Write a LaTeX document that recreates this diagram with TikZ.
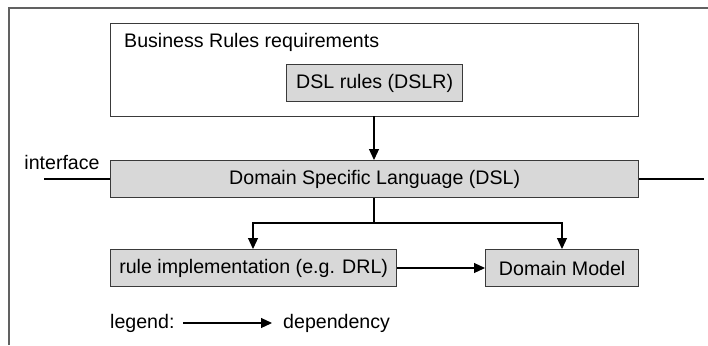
\documentclass[tikz,border=0pt]{standalone}
\usepackage{fontspec}
\setmainfont{Liberation Sans}
\usetikzlibrary{arrows.meta}
\definecolor{boxgray}{HTML}{D8D8D8}
\definecolor{linegray}{HTML}{3A3A3A}
\tikzset{
  every node/.style={font=\fontsize{19.6}{22}\selectfont, inner sep=0pt},
  graybox/.style={draw=linegray, line width=1.3pt, fill=boxgray, anchor=north west},
  dep/.style={line width=1.2pt, -{Triangle[length=11pt,width=10pt]}},
  ifline/.style={line width=2.6pt},
  lbl/.style={anchor=west, text=black}
}
\begin{document}
\begin{tikzpicture}[x=1pt,y=-1pt]
\useasboundingbox (0,0) rectangle (708,345);
% outer frame (partial)
\draw[draw=linegray!80, line width=1.2pt] (9,345) -- (9,8) -- (708,8);
% Business rules box
\node[draw=linegray, line width=1.3pt, anchor=north west, minimum width=528pt, minimum height=93pt] (br) at (110,23) {};
\node[lbl] (brt) at (124,42) {Business Rules requirements};
\node[graybox, minimum width=176pt, minimum height=37pt] (dslr) at (286,64) {};
\node (dslrt) at (dslr.center) {DSL rules (DSLR)};
% DSL box
\node[graybox, minimum width=528pt, minimum height=37pt] (dsl) at (110,160) {};
\node (dslt) at (dsl.center) {Domain Specific Language (DSL)};
% interface lines
\node (ift) at (62,162) {interface};
\coordinate (ifl) at (44,179);
\coordinate (ifr) at (704,179);
\draw[ifline] (ifl) -- (ifl -| dsl.west);
\draw[ifline] (dsl.east |- ifr) -- (ifr);
% lower boxes
\node[graybox, minimum width=286pt, minimum height=37pt] (ri) at (110,249) {};
\node (rit) at (ri.center) {rule implementation (e.g. DRL)};
\node[graybox, minimum width=153pt, minimum height=37pt] (dm) at (485,249) {};
\node (dmt) at (dm.center) {Domain Model};
% connectors
\coordinate (brb) at (374,116);
\draw[dep] (brb) -- (brb |- dsl.north);
\coordinate (fork) at (374,223);
\coordinate (rtop) at (253,249);
\coordinate (dtop) at (562,249);
\draw[line width=1.2pt] (fork |- dsl.south) -- (fork);
\draw[dep] (fork) -- (fork -| rtop) -- (rtop);
\draw[dep] (fork) -- (fork -| dtop) -- (dtop);
\draw[dep] (ri.east |- 0,268) -- (dm.west |- 0,268);
% legend
\node[lbl] (leg) at (110,323) {legend:};
\coordinate (la) at (183,323);
\coordinate (lb) at (272,323);
\draw[dep] (la) -- (lb);
\node[lbl] (dep) at (283,323) {dependency};
\end{tikzpicture}
\end{document}
